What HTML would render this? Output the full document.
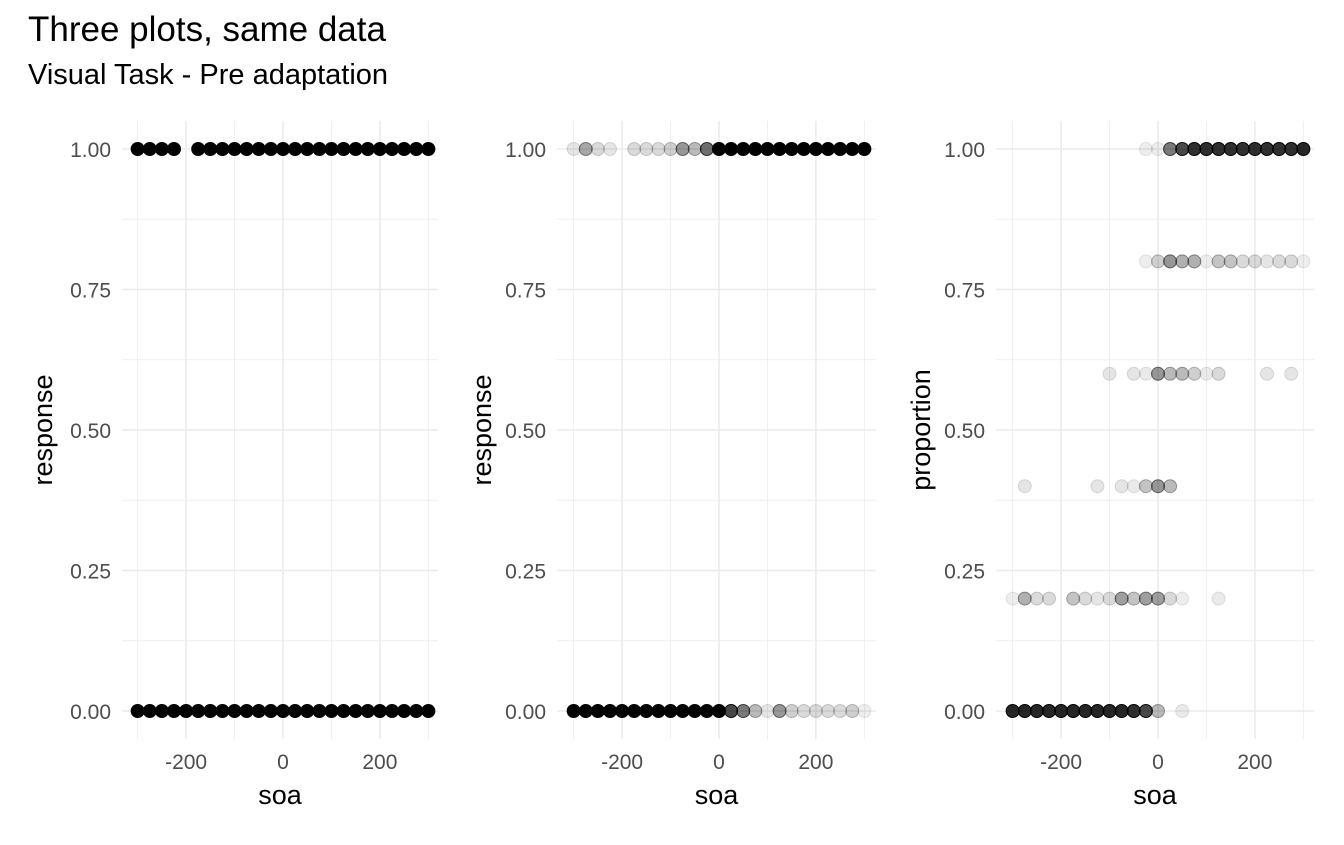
<!DOCTYPE html>
<html><head><meta charset="utf-8"><style>
body{margin:0;background:#fff;font-family:"Liberation Sans",sans-serif}
</style></head><body>
<svg id="chart" width="1344" height="840" xmlns="http://www.w3.org/2000/svg">
<text x="28" y="41" font-size="35" fill="#000">Three plots, same data</text>
<text x="28" y="84" font-size="29" fill="#000">Visual Task - Pre adaptation</text>
</svg>
<script>
// Panel 1: raw responses (solid)
const p1Top = [-300,-275,-250,-225,-175,-150,-125,-100,-75,-50,-25,0,25,50,75,100,125,150,175,200,225,250,275,300];
const p1Bottom = [-300,-275,-250,-225,-200,-175,-150,-125,-100,-75,-50,-25,0,25,50,75,100,125,150,175,200,225,250,275,300];
// Panel 2: overplot counts at alpha .1
const p2TopSoa = [-300,-275,-250,-225,-175,-150,-125,-100,-75,-50,-25,0,25,50,75,100,125,150,175,200,225,250,275,300];
const p2TopN = [1,4,1.5,1,1.5,1.5,1.5,2,5,3,8,25,25,25,25,25,25,25,25,25,25,25,25,25];
const p2BotSoa = [-300,-275,-250,-225,-200,-175,-150,-125,-100,-75,-50,-25,0,25,50,75,100,125,150,175,200,225,250,275,300];
const p2BotN = [25,25,25,25,25,25,25,25,25,25,25,25,25,12,7,3,1,5,2,1.5,1.5,1.5,1.5,2,0.7];
// Panel 3: proportions
const p3Y = [1,0.8,0.6,0.4,0.2,0];
const p3Soa = [
 [-25,0,25,50,75,100,125,150,175,200,225,250,275,300],
 [-25,0,25,50,75,100,125,150,175,200,225,250,275,300],
 [-100,-50,-25,0,25,50,75,100,125,225,275],
 [-275,-125,-75,-50,-25,0,25],
 [-300,-275,-250,-225,-175,-150,-125,-100,-75,-50,-25,0,25,50,125],
 [-300,-275,-250,-225,-200,-175,-150,-125,-100,-75,-50,-25,0,50]
];
const p3N = [
 [0.7,0.7,7,12,16,16,16,16,16,16,16,16,16,18],
 [0.7,2,5,3.5,3.5,0.7,2.5,2.5,1.5,1.5,1,1.5,1.5,0.7],
 [1,1,0.8,5,3,3,2,0.8,1.5,1,1],
 [1,1,1,0.8,2.5,5,3],
 [0.7,3.5,1.5,1.5,2.5,1.5,1,1.5,4.5,2.5,4.5,4.5,1.5,0.7,0.8],
 [18,18,18,18,18,18,18,18,18,18,16,12,3,0.8]
];
const xTicks = [-200,0,200];
const xMinor = [-300,-100,100,300];
const yTicks = [0,0.25,0.5,0.75,1];
const yTickLabels = ["0.00","0.25","0.50","0.75","1.00"];
const yMinor = [0.125,0.375,0.625,0.875];

const NS="http://www.w3.org/2000/svg";
const svg=document.getElementById('chart');
function mk(t,a,p){const e=document.createElementNS(NS,t);for(const k in a)e.setAttribute(k,a[k]);(p||svg).appendChild(e);return e;}
const panels=[{x0:122,x1:438,zero:283,yt:"response",tx:52},{x0:557,x1:876,zero:719,yt:"response",tx:491},{x0:996,x1:1314,zero:1158,yt:"proportion",tx:930}];
const Y0=121,Y1=739;
function ys(v){return 711-v*(711-149);}
panels.forEach((P,i)=>{
 const xs=v=>P.zero+v*0.4845;
 const g=mk('g',{});
 
 
 yMinor.forEach(v=>{const l=mk('line',{x1:P.x0,x2:P.x1,y1:ys(v),y2:ys(v),stroke:'#ebebeb','stroke-width':0.8},g);});
 xMinor.forEach(v=>{const l=mk('line',{x1:xs(v),x2:xs(v),y1:Y0,y2:Y1,stroke:'#ebebeb','stroke-width':0.8},g);});
 yTicks.forEach((v,k)=>{const l=mk('line',{x1:P.x0,x2:P.x1,y1:ys(v),y2:ys(v),stroke:'#ebebeb','stroke-width':1.6},g);
  const t=mk('text',{x:P.x0-11,y:ys(v)+8,'font-size':21,fill:'#4d4d4d','text-anchor':'end'},g);t.textContent=yTickLabels[k];});
 xTicks.forEach(v=>{const l=mk('line',{x1:xs(v),x2:xs(v),y1:Y0,y2:Y1,stroke:'#ebebeb','stroke-width':1.6},g);
  const t=mk('text',{x:xs(v),y:769,'font-size':21,fill:'#4d4d4d','text-anchor':'middle'},g);t.textContent=String(v);});
 const xt=mk('text',{x:(P.x0+P.x1)/2,y:804,'font-size':27,'text-anchor':'middle'},g);xt.textContent='soa';
 const yx=P.tx;
 const yt=mk('text',{x:yx,y:430,'font-size':27,'text-anchor':'middle',transform:`rotate(-90 ${yx} 430)`},g);yt.textContent=P.yt;
 function pt(s,y,n){const op=n>=25?1:1-Math.pow(0.9,n);const c=mk('circle',{cx:xs(s),cy:ys(y),r:6.5,fill:'#000','fill-opacity':op,stroke:'#000','stroke-opacity':Math.min(1,op*1.3)},g);}
 if(i===0){p1Top.forEach(s=>pt(s,1,25));p1Bottom.forEach(s=>pt(s,0,25));}
 if(i===1){p2TopSoa.forEach((s,k)=>pt(s,1,p2TopN[k]));p2BotSoa.forEach((s,k)=>pt(s,0,p2BotN[k]));}
 if(i===2){p3Y.forEach((y,r)=>p3Soa[r].forEach((s,k)=>pt(s,y,p3N[r][k])));}
});
</script>
</body></html>
